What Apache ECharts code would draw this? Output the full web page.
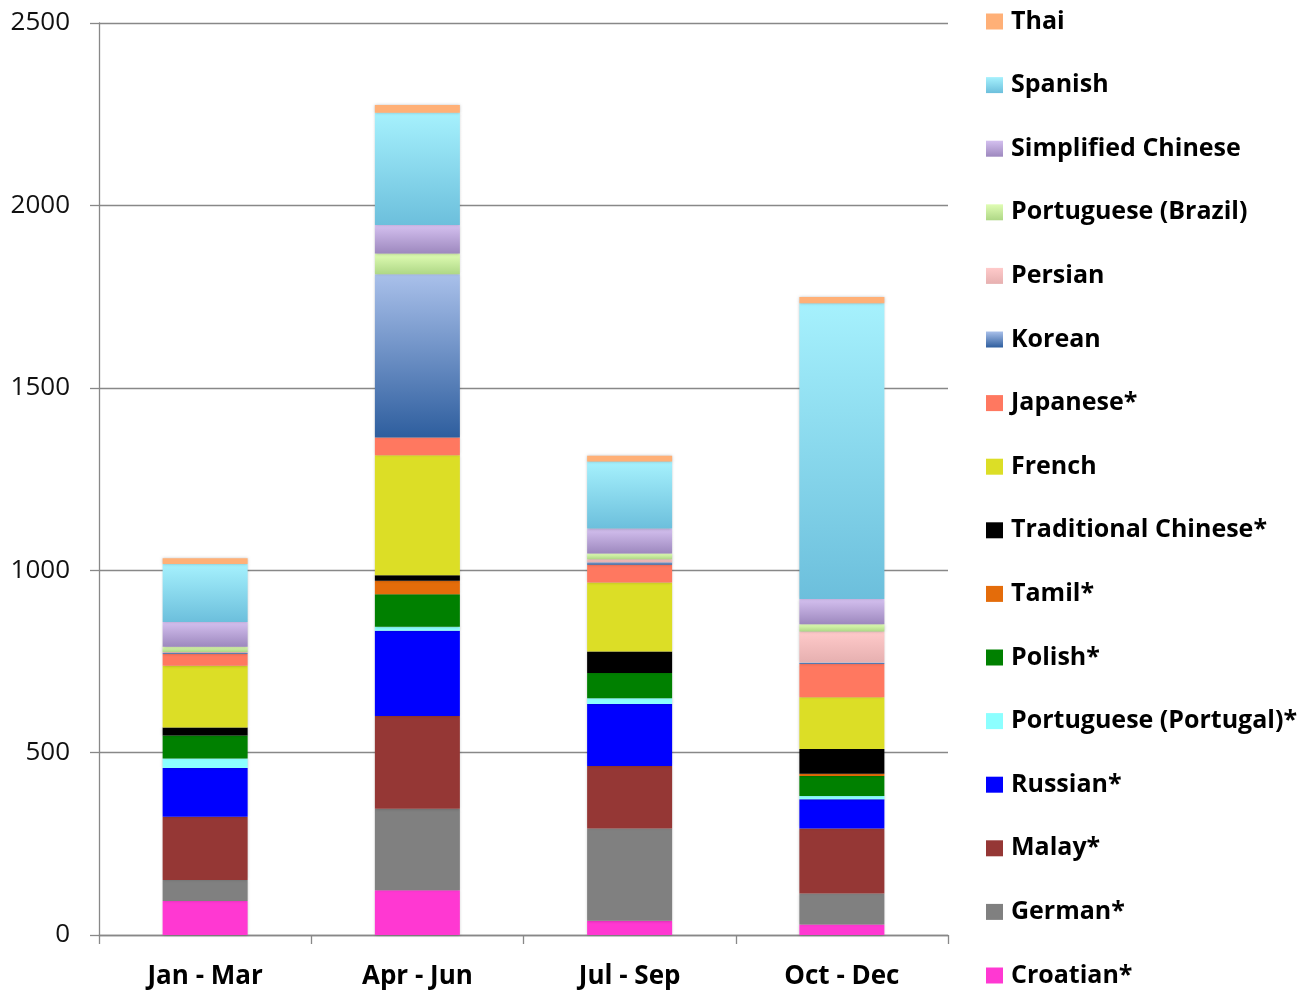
<!DOCTYPE html>
<html>
<head>
<meta charset="utf-8">
<script src="https://cdn.jsdelivr.net/npm/echarts@6/dist/echarts.min.js"></script>
<style>
html,body{margin:0;padding:0;background:#fff;}
#chart{width:1316px;height:991px;}
</style>
</head>
<body>
<div id="chart"></div>
<script>
const categories = ['Jan - Mar', 'Apr - Jun', 'Jul - Sep', 'Oct - Dec'];
const yTicks = [0, 500, 1000, 1500, 2000, 2500];

// series values, stacked bottom to top
const croatian = [93, 123, 39, 29];
const german = [58, 223, 253, 85];
const malay = [173, 254, 171, 178];
const russian = [134, 234, 170, 80];
const portuguesePortugal = [26, 11, 16, 9];
const polish = [63, 89, 69, 55];
const tamil = [0, 37, 0, 6];
const traditionalChinese = [22, 15, 59, 68];
const french = [169, 329, 189, 142];
const japanese = [32, 49, 49, 91];
const korean = [4, 447, 7, 4];
const persian = [2, 0, 8, 85];
const portugueseBrazil = [14, 57, 16, 20];
const simplifiedChinese = [68, 78, 68, 69];
const spanish = [159, 308, 184, 811];
const thai = [16, 21, 16, 17];

const seriesNames = ['Croatian*', 'German*', 'Malay*', 'Russian*', 'Portuguese (Portugal)*', 'Polish*', 'Tamil*',
  'Traditional Chinese*', 'French', 'Japanese*', 'Korean', 'Persian', 'Portuguese (Brazil)', 'Simplified Chinese', 'Spanish', 'Thai'];
const seriesData = [croatian, german, malay, russian, portuguesePortugal, polish, tamil,
  traditionalChinese, french, japanese, korean, persian, portugueseBrazil, simplifiedChinese, spanish, thai];

function grad(top, bottom) {
  return new echarts.graphic.LinearGradient(0, 0, 0, 1, [
    { offset: 0, color: top }, { offset: 1, color: bottom }
  ]);
}
const colors = [
  '#FF38D2', '#808080', '#953735', '#0000FF', '#8CFFFF', '#008000', '#E46C0A',
  '#000000', '#DCDE26', '#FF7860',
  grad('#A9C0EA', '#2E5E9E'),
  grad('#FFCACA', '#E6B0B0'),
  grad('#E0FDB4', '#AED786'),
  grad('#D4C0EF', '#9D88BE'),
  grad('#A6F1FD', '#6CBFDC'),
  '#FFB077'
];

const FONT = 'Open Sans';

const chart = echarts.init(document.getElementById('chart'), null, { renderer: 'canvas' });
chart.setOption({
  animation: false,
  backgroundColor: '#fff',
  grid: { left: 99, right: 368, top: 23, bottom: 56, containLabel: false },
  legend: {
    orient: 'vertical',
    left: 986,
    top: 9,
    height: 982,
    padding: 0,
    itemWidth: 17,
    itemHeight: 16,
    itemGap: 38.6,
    icon: 'rect',
    data: seriesNames.slice().reverse(),
    textStyle: { fontFamily: FONT, fontWeight: 'bold', fontSize: 25, color: '#000', padding: [0, 0, 0, 3] }
  },
  xAxis: {
    type: 'category',
    data: categories,
    axisLine: { lineStyle: { color: '#888', width: 1.3 } },
    axisTick: { show: true, length: 9, lineStyle: { color: '#888', width: 1.3 } },
    axisLabel: { fontFamily: FONT, fontWeight: 'bold', fontSize: 26, color: '#000', margin: 29 }
  },
  yAxis: {
    type: 'value',
    min: yTicks[0],
    max: yTicks[yTicks.length - 1],
    interval: 500,
    axisLine: { show: true, lineStyle: { color: '#888', width: 1.3 } },
    axisTick: { show: true, length: 9, lineStyle: { color: '#888', width: 1.3 } },
    splitLine: { lineStyle: { color: '#888', width: 1.3 } },
    axisLabel: { fontFamily: FONT, fontSize: 26, color: '#111', margin: 29, formatter: v => String(v) }
  },
  series: seriesNames.map((n, i) => ({
    name: n,
    type: 'bar',
    stack: 'total',
    barWidth: 85,
    data: seriesData[i],
    itemStyle: { color: colors[i], shadowColor: 'rgba(0,0,0,0.25)', shadowBlur: 3 }
  }))
});
</script>
</body>
</html>
